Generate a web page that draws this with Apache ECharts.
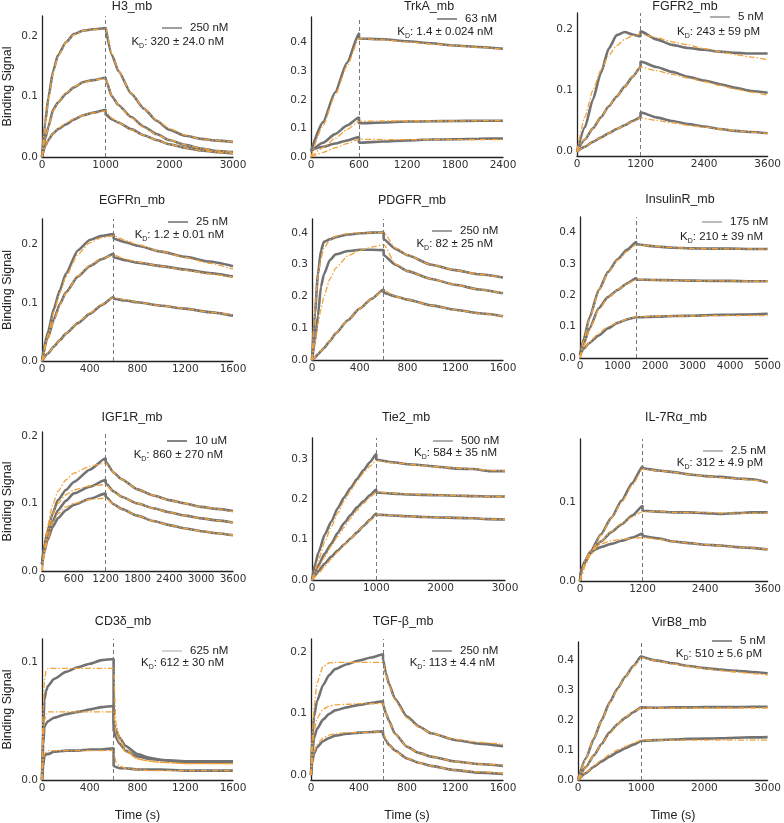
<!DOCTYPE html>
<html><head><meta charset="utf-8">
<script src="https://cdn.jsdelivr.net/npm/echarts@6/dist/echarts.min.js"></script>
<style>html,body{margin:0;padding:0;background:#fff}#c{width:784px;height:823px}</style>
</head><body><div id="c"></div>
<script>
// ---------------- DATA ----------------
const panelTitles = ['H3_mb','TrkA_mb','FGFR2_mb','EGFRn_mb','PDGFR_mb','InsulinR_mb','IGF1R_mb','Tie2_mb','IL-7Rα_mb','CD3δ_mb','TGF-β_mb','VirB8_mb'];
const concLabels = ['250 nM','63 nM','5 nM','25 nM','250 nM','175 nM','10 uM','500 nM','2.5 nM','625 nM','250 nM','5 nM'];
const kdValues = ['320 ± 24.0 nM','1.4 ± 0.024 nM','243 ± 59 pM','1.2 ± 0.01 nM','82 ± 25 nM','210 ± 39 nM','860 ± 270 nM','584 ± 35 nM','312 ± 4.9 pM','612 ± 30 nM','113 ± 4.4 nM','510 ± 5.6 pM'];
const breakTimes = [1000,600,1200,600,600,1500,1200,1000,1200,600,600,1000];
const xMaxes = [3000,2400,3600,1600,1600,5000,3600,3000,3600,1600,1600,3000];
const xSteps = [1000,600,1200,400,400,1000,600,1000,1200,400,400,1000];
const yTickValues = [[0,0.1,0.2],[0,0.1,0.2,0.3,0.4],[0,0.1,0.2],[0,0.1,0.2],[0,0.1,0.2,0.3,0.4],[0,0.1,0.2,0.3,0.4],[0,0.1,0.2],[0,0.1,0.2,0.3],[0,0.1],[0,0.1],[0,0.1,0.2],[0,0.1,0.2,0.3,0.4]];

const H3_time = [0,50,100,175,250,380,500,650,800,1000,1000,1100,1200,1400,1600,1800,2000,2250,2500,2750,3000];
const H3_obs = [
 [0,0.057,0.098,0.142,0.168,0.19,0.203,0.209,0.211,0.213,0.212,0.168,0.142,0.105,0.08,0.06,0.045,0.035,0.03,0.027,0.025],
 [0,0.03,0.05,0.078,0.09,0.105,0.115,0.124,0.127,0.131,0.128,0.1,0.086,0.066,0.05,0.038,0.028,0.02,0.014,0.01,0.008],
 [0,0.018,0.028,0.039,0.046,0.054,0.062,0.069,0.073,0.078,0.07,0.062,0.057,0.046,0.036,0.028,0.021,0.015,0.011,0.008,0.006]];
const H3_fit = [
 [0,0.055,0.095,0.139,0.166,0.19,0.202,0.209,0.211,0.212,0.212,0.17,0.142,0.106,0.08,0.061,0.047,0.036,0.03,0.027,0.025],
 [0,0.029,0.05,0.076,0.09,0.106,0.116,0.123,0.127,0.13,0.13,0.101,0.086,0.065,0.049,0.037,0.028,0.02,0.014,0.01,0.008],
 [0,0.017,0.028,0.039,0.047,0.056,0.063,0.069,0.073,0.076,0.076,0.064,0.057,0.045,0.036,0.028,0.021,0.015,0.011,0.008,0.006]];

const TrkA_time = [0,150,300,450,600,600,900,1200,1500,1800,2100,2400];
const TrkA_obs = [
 [0.02,0.122,0.226,0.33,0.432,0.415,0.412,0.405,0.398,0.39,0.385,0.379],
 [0.02,0.05,0.08,0.11,0.138,0.118,0.121,0.124,0.125,0.126,0.127,0.127],
 [0.025,0.036,0.047,0.058,0.07,0.05,0.054,0.058,0.061,0.062,0.064,0.065]];
const TrkA_fit = [
 [0,0.11,0.215,0.318,0.415,0.415,0.41,0.403,0.396,0.39,0.384,0.378],
 [0,0.033,0.065,0.096,0.125,0.125,0.126,0.126,0.126,0.126,0.127,0.127],
 [0,0.016,0.032,0.047,0.062,0.062,0.061,0.061,0.061,0.061,0.061,0.061]];

const FGFR2_time = [0,150,300,450,600,750,900,1050,1200,1200,1500,1800,2100,2400,2700,3000,3300,3600];
const FGFR2_obs = [
 [0,0.04,0.085,0.128,0.168,0.19,0.195,0.191,0.188,0.196,0.183,0.174,0.169,0.166,0.163,0.161,0.16,0.16],
 [0,0.02,0.038,0.056,0.074,0.09,0.106,0.122,0.138,0.147,0.138,0.13,0.122,0.116,0.11,0.104,0.099,0.096],
 [0,0.008,0.016,0.023,0.03,0.037,0.043,0.05,0.056,0.064,0.056,0.05,0.045,0.041,0.037,0.034,0.032,0.03]];
const FGFR2_fit = [
 [0,0.057,0.1,0.133,0.157,0.173,0.183,0.189,0.192,0.192,0.186,0.179,0.174,0.168,0.163,0.158,0.154,0.15],
 [0,0.02,0.038,0.056,0.074,0.09,0.106,0.122,0.138,0.138,0.132,0.126,0.12,0.114,0.108,0.102,0.097,0.092],
 [0,0.008,0.016,0.023,0.03,0.037,0.043,0.05,0.055,0.055,0.051,0.047,0.043,0.04,0.037,0.034,0.032,0.03]];

const EGFRn_time = [0,50,100,150,200,300,400,500,600,600,700,800,1000,1200,1400,1600];
const EGFRn_obs = [
 [0,0.05,0.09,0.122,0.15,0.19,0.208,0.215,0.218,0.21,0.204,0.198,0.188,0.179,0.171,0.163],
 [0,0.04,0.072,0.098,0.118,0.145,0.163,0.175,0.184,0.178,0.173,0.169,0.163,0.157,0.151,0.145],
 [0,0.013,0.025,0.036,0.047,0.065,0.081,0.096,0.11,0.107,0.104,0.101,0.095,0.09,0.084,0.078]];
const EGFRn_fit = [
 [0,0.045,0.085,0.117,0.145,0.183,0.203,0.212,0.215,0.215,0.207,0.2,0.188,0.178,0.168,0.158],
 [0,0.038,0.07,0.096,0.117,0.146,0.164,0.176,0.182,0.182,0.175,0.17,0.163,0.156,0.15,0.144],
 [0,0.013,0.025,0.036,0.047,0.066,0.082,0.097,0.109,0.109,0.105,0.101,0.095,0.09,0.084,0.079]];

const PDGFR_time = [0,25,50,75,100,150,200,300,400,500,600,600,700,800,1000,1200,1400,1600];
const PDGFR_obs = [
 [0,0.15,0.27,0.345,0.372,0.38,0.387,0.395,0.399,0.401,0.402,0.38,0.35,0.33,0.3,0.283,0.27,0.26],
 [0,0.06,0.14,0.23,0.27,0.315,0.333,0.343,0.347,0.347,0.346,0.33,0.3,0.28,0.255,0.237,0.222,0.21],
 [0,0.008,0.018,0.028,0.038,0.06,0.084,0.125,0.162,0.193,0.222,0.212,0.2,0.19,0.172,0.158,0.147,0.138]];
const PDGFR_fit = [
 [0,0.16,0.265,0.32,0.352,0.378,0.39,0.398,0.4,0.401,0.402,0.402,0.352,0.33,0.3,0.283,0.27,0.26],
 [0,0.06,0.115,0.16,0.2,0.255,0.29,0.328,0.345,0.356,0.363,0.363,0.302,0.28,0.255,0.237,0.222,0.21],
 [0,0.009,0.019,0.029,0.039,0.061,0.084,0.125,0.162,0.193,0.22,0.22,0.2,0.19,0.172,0.158,0.147,0.138]];

const InsulinR_time = [0,100,250,500,750,1000,1250,1500,1500,2000,2500,3000,3500,4000,4500,5000];
const InsulinR_obs = [
 [0.01,0.06,0.128,0.217,0.275,0.315,0.345,0.37,0.363,0.356,0.352,0.35,0.349,0.349,0.348,0.348],
 [0.01,0.045,0.094,0.159,0.195,0.217,0.238,0.255,0.25,0.249,0.248,0.247,0.246,0.246,0.245,0.245],
 [0.01,0.03,0.048,0.072,0.095,0.112,0.123,0.13,0.13,0.132,0.134,0.135,0.137,0.138,0.139,0.141]];
const InsulinR_fit = [
 [0,0.055,0.125,0.215,0.272,0.312,0.34,0.362,0.362,0.356,0.352,0.35,0.349,0.348,0.348,0.347],
 [0,0.04,0.09,0.155,0.193,0.217,0.237,0.25,0.25,0.249,0.248,0.247,0.246,0.246,0.245,0.245],
 [0,0.025,0.05,0.08,0.1,0.113,0.124,0.132,0.132,0.133,0.134,0.134,0.135,0.135,0.135,0.135]];

const IGF1R_time = [0,50,100,200,300,450,600,900,1200,1200,1350,1500,1800,2100,2400,2700,3000,3300,3600];
const IGF1R_obs = [
 [0.01,0.04,0.058,0.085,0.105,0.12,0.132,0.15,0.167,0.162,0.146,0.136,0.121,0.112,0.105,0.1,0.095,0.092,0.089],
 [0.01,0.035,0.05,0.073,0.09,0.104,0.115,0.125,0.135,0.13,0.118,0.11,0.1,0.093,0.087,0.082,0.078,0.075,0.072],
 [0.01,0.03,0.045,0.065,0.078,0.09,0.098,0.107,0.115,0.11,0.099,0.092,0.082,0.074,0.068,0.063,0.059,0.056,0.053]];
const IGF1R_fit = [
 [0,0.035,0.065,0.098,0.118,0.135,0.145,0.155,0.16,0.16,0.146,0.136,0.121,0.112,0.105,0.1,0.095,0.092,0.088],
 [0,0.03,0.055,0.085,0.1,0.113,0.12,0.126,0.128,0.128,0.118,0.11,0.1,0.093,0.087,0.082,0.078,0.075,0.072],
 [0,0.025,0.045,0.072,0.085,0.095,0.1,0.106,0.108,0.108,0.099,0.092,0.082,0.074,0.068,0.063,0.059,0.056,0.053]];

const Tie2_time = [0,50,100,200,300,400,500,600,700,800,900,1000,1000,1250,1500,1750,2000,2250,2500,2750,3000];
const Tie2_obs = [
 [0,0.04,0.068,0.113,0.145,0.178,0.205,0.228,0.25,0.272,0.292,0.312,0.298,0.292,0.287,0.284,0.28,0.276,0.275,0.27,0.27],
 [0,0.02,0.037,0.066,0.09,0.117,0.141,0.161,0.18,0.195,0.21,0.224,0.217,0.214,0.212,0.211,0.21,0.209,0.208,0.207,0.207],
 [0,0.012,0.022,0.041,0.058,0.073,0.088,0.103,0.118,0.134,0.149,0.165,0.162,0.16,0.158,0.156,0.155,0.154,0.153,0.151,0.15]];
const Tie2_fit = [
 [0,0.025,0.05,0.095,0.132,0.166,0.196,0.222,0.245,0.265,0.282,0.296,0.296,0.291,0.287,0.283,0.28,0.277,0.275,0.272,0.27],
 [0,0.015,0.03,0.058,0.084,0.108,0.131,0.153,0.173,0.19,0.205,0.218,0.218,0.215,0.213,0.211,0.21,0.209,0.208,0.207,0.207],
 [0,0.008,0.016,0.034,0.052,0.07,0.087,0.103,0.119,0.134,0.148,0.162,0.162,0.16,0.158,0.156,0.155,0.154,0.153,0.151,0.15]];

const IL7_time = [0,25,100,200,400,600,800,1000,1200,1200,1500,1800,2100,2400,2700,3000,3300,3600];
const IL7_obs = [
 [0,0.015,0.025,0.037,0.059,0.08,0.102,0.124,0.145,0.143,0.14,0.138,0.135,0.133,0.132,0.13,0.129,0.125],
 [0,0.014,0.024,0.035,0.05,0.062,0.072,0.083,0.095,0.089,0.088,0.087,0.087,0.086,0.085,0.086,0.087,0.087],
 [0,0.014,0.026,0.037,0.043,0.047,0.051,0.055,0.06,0.057,0.054,0.05,0.048,0.046,0.045,0.043,0.042,0.04]];
const IL7_fit = [
 [0,0.006,0.02,0.035,0.058,0.08,0.1,0.121,0.142,0.142,0.14,0.138,0.135,0.133,0.131,0.13,0.128,0.126],
 [0,0.006,0.02,0.033,0.05,0.063,0.073,0.081,0.088,0.088,0.088,0.087,0.087,0.087,0.086,0.086,0.086,0.086],
 [0,0.008,0.027,0.038,0.047,0.051,0.053,0.054,0.055,0.055,0.053,0.05,0.048,0.046,0.045,0.043,0.042,0.04]];

const CD3_time = [0,10,20,35,50,100,200,300,400,500,600,600,620,650,700,800,900,1000,1200,1400,1600];
const CD3_obs = [
 [0,0.045,0.068,0.076,0.08,0.086,0.092,0.096,0.099,0.102,0.103,0.048,0.042,0.036,0.029,0.022,0.019,0.017,0.015,0.015,0.015],
 [0,0.03,0.045,0.048,0.05,0.053,0.056,0.058,0.06,0.062,0.063,0.042,0.036,0.031,0.025,0.02,0.018,0.017,0.016,0.016,0.016],
 [0,0.012,0.02,0.022,0.022,0.024,0.025,0.025,0.026,0.026,0.027,0.012,0.011,0.01,0.01,0.009,0.009,0.009,0.008,0.008,0.008]];
const CD3_fit = [
 [0,0.06,0.085,0.093,0.095,0.095,0.095,0.095,0.095,0.095,0.095,0.095,0.048,0.036,0.026,0.018,0.016,0.015,0.014,0.014,0.014],
 [0,0.035,0.05,0.056,0.058,0.058,0.058,0.058,0.058,0.058,0.058,0.058,0.04,0.032,0.024,0.018,0.016,0.015,0.014,0.014,0.014],
 [0,0.015,0.022,0.024,0.025,0.025,0.025,0.025,0.025,0.025,0.025,0.025,0.015,0.012,0.01,0.009,0.008,0.008,0.008,0.008,0.008]];

const TGF_time = [0,10,25,50,100,150,200,300,400,500,600,600,625,650,700,800,900,1000,1200,1400,1600];
const TGF_obs = [
 [0,0.06,0.095,0.12,0.146,0.162,0.172,0.18,0.186,0.191,0.196,0.188,0.165,0.148,0.124,0.095,0.079,0.068,0.057,0.051,0.047],
 [0,0.035,0.06,0.075,0.09,0.099,0.105,0.11,0.114,0.117,0.12,0.115,0.1,0.088,0.067,0.046,0.036,0.03,0.022,0.018,0.015],
 [0,0.02,0.035,0.045,0.055,0.06,0.064,0.067,0.069,0.07,0.071,0.065,0.056,0.049,0.04,0.027,0.02,0.015,0.008,0.004,0.002]];
const TGF_fit = [
 [0,0.06,0.11,0.15,0.176,0.182,0.183,0.183,0.183,0.183,0.183,0.183,0.163,0.146,0.122,0.093,0.078,0.068,0.058,0.053,0.05],
 [0,0.04,0.07,0.092,0.107,0.112,0.114,0.115,0.116,0.116,0.116,0.116,0.1,0.088,0.067,0.046,0.036,0.03,0.022,0.018,0.016],
 [0,0.02,0.037,0.05,0.06,0.065,0.067,0.069,0.069,0.07,0.07,0.07,0.058,0.049,0.039,0.027,0.02,0.015,0.008,0.005,0.003]];

const VirB8_time = [0,125,250,375,500,625,750,875,1000,1000,1250,1500,1750,2000,2250,2500,2750,3000];
const VirB8_obs = [
 [0,0.072,0.137,0.2,0.258,0.305,0.345,0.38,0.412,0.41,0.398,0.389,0.38,0.373,0.368,0.364,0.36,0.356],
 [0,0.043,0.082,0.121,0.159,0.186,0.208,0.226,0.242,0.24,0.241,0.242,0.242,0.243,0.243,0.243,0.244,0.244],
 [0,0.023,0.044,0.062,0.078,0.093,0.106,0.118,0.13,0.131,0.133,0.135,0.137,0.138,0.139,0.141,0.142,0.143]];
const VirB8_fit = [
 [0,0.072,0.138,0.2,0.256,0.303,0.344,0.378,0.408,0.408,0.397,0.387,0.379,0.371,0.365,0.36,0.355,0.35],
 [0,0.042,0.083,0.12,0.155,0.185,0.21,0.228,0.24,0.24,0.24,0.24,0.24,0.24,0.24,0.24,0.24,0.24],
 [0,0.025,0.047,0.067,0.085,0.1,0.112,0.123,0.132,0.132,0.133,0.133,0.133,0.133,0.133,0.133,0.133,0.133]];

const panelTimes = [H3_time,TrkA_time,FGFR2_time,EGFRn_time,PDGFR_time,InsulinR_time,IGF1R_time,Tie2_time,IL7_time,CD3_time,TGF_time,VirB8_time];
const panelObs = [H3_obs,TrkA_obs,FGFR2_obs,EGFRn_obs,PDGFR_obs,InsulinR_obs,IGF1R_obs,Tie2_obs,IL7_obs,CD3_obs,TGF_obs,VirB8_obs];
const panelFits = [H3_fit,TrkA_fit,FGFR2_fit,EGFRn_fit,PDGFR_fit,InsulinR_fit,IGF1R_fit,Tie2_fit,IL7_fit,CD3_fit,TGF_fit,VirB8_fit];

// ---------------- LAYOUT ----------------
const gridBoxes = [[42,16,191,141],[311,17,192,140],[577,13,192,143],
                   [41,219,192,142],[312,219,191,141],[580,217,193,141],
                   [41,432,192,139],[312,438,193,142],[580,439,192,142],
                   [42,639,191,141],[311,639,192,141],[578,642,192,140]];
const yRanges = [[0,0.233],[0,0.49],[-0.007,0.226],[0,0.244],[0,0.444],[0,0.45],[0,0.206],[0,0.352],[0,0.18],[0,0.12],[-0.008,0.221],[0,0.46]];
const titlePos = [[132,7],[429,7],[685,7],[132,201],[412,201],[680,200],[132,418],[406,418],[676,418],[123,622],[403,622],[679,623]];
const legendPos = [[162,29],[437,20],[710,18],[168,223],[432,232],[702,223],[167,442],[433,442],[703,452],[162,652],[432,652],[712,642]];
const legendColors = ['#888','#777','#999','#777','#888','#aaa','#666','#999','#aaa','#c8c8c8','#888','#777'];
const kdPos = [[224,42],[493,32],[760,32],[224,235],[493,244],[763,237],[223,455],[497,453],[763,463],[224,663],[495,663],[762,654]];

const GRAY = '#727272', ORANGE = '#f2a23a', INK = '#222';
const option = {animation:false, backgroundColor:'#fff', grid:[], xAxis:[], yAxis:[], series:[], legend:[], graphic:[]};

panelTitles.forEach((title,i)=>{
  const [l,t,w,h] = gridBoxes[i];
  option.grid.push({left:l, top:t, width:w, height:h, containLabel:false});
  option.xAxis.push({type:'value', gridIndex:i, min:0, max:xMaxes[i], interval:xSteps[i],
    axisLine:{show:true, onZero:false, lineStyle:{color:INK, width:1.3}}, axisTick:{show:false}, splitLine:{show:false},
    axisLabel:{formatter:v=>String(v), color:'#333', fontSize:10.5, fontFamily:'DejaVu Sans', margin:3, showMaxLabel:true, showMinLabel:true},
    name: i>=9 ? 'Time (s)' : '', nameLocation:'middle', nameGap:29,
    nameTextStyle:{fontSize:12.5, fontFamily:'Liberation Sans', color:INK}});
  option.yAxis.push({type:'value', gridIndex:i, min:yRanges[i][0], max:yRanges[i][1],
    axisLine:{show:true, onZero:false, lineStyle:{color:INK, width:1.3}}, axisTick:{show:false}, splitLine:{show:false},
    axisLabel:{customValues:yTickValues[i], formatter:v=>Number(v).toFixed(1), color:'#333', fontSize:10.5, fontFamily:'DejaVu Sans', margin:4},
    name: i%3===0 ? 'Binding Signal' : '', nameLocation:'middle', nameGap:28, nameRotate:90,
    nameTextStyle:{fontSize:12.5, fontFamily:'Liberation Sans', color:INK}});
  const times = panelTimes[i];
  panelObs[i].forEach((vals,j)=>{
    const s = {type:'line', xAxisIndex:i, yAxisIndex:i, name: j===0 ? concLabels[i] : title+' obs '+j,
      data: times.map((x,n)=>[x, vals[n]]), symbol:'none', showSymbol:false, smooth:0.2, smoothMonotone:'x',
      lineStyle:{color:GRAY, width:2.6}, itemStyle:{color:GRAY}, z:2, silent:true};
    if (j===0) s.markLine = {silent:true, symbol:'none', label:{show:false},
      lineStyle:{color:'#777', type:[4,3], width:1}, data:[{xAxis:breakTimes[i]}]};
    option.series.push(s);
  });
  panelFits[i].forEach((vals,j)=>{
    option.series.push({type:'line', xAxisIndex:i, yAxisIndex:i, name: title+' fit '+j,
      data: times.map((x,n)=>[x, vals[n]]), symbol:'none', showSymbol:false, smooth:0.2, smoothMonotone:'x',
      lineStyle:{color:ORANGE, width:1.3, type:[6,2,1.5,2]}, itemStyle:{color:ORANGE}, z:3, silent:true});
  });
  option.legend.push({left:legendPos[i][0], top:legendPos[i][1]-7, padding:0, selectedMode:false,
    data:[{name:concLabels[i], icon:'rect', itemStyle:{color:legendColors[i]}}],
    itemWidth:20, itemHeight:1.6, textStyle:{fontSize:11.5, fontFamily:'Liberation Sans', color:INK, padding:[0,0,0,3]}});
  option.graphic.push({type:'text', x:titlePos[i][0], y:titlePos[i][1], silent:true,
    style:{text:title, font:'12.5px "Liberation Sans"', fill:INK, align:'center', verticalAlign:'middle'}});
  option.graphic.push({type:'text', x:kdPos[i][0], y:kdPos[i][1], silent:true,
    style:{text:'{k|K}{s|D}{k|: '+kdValues[i]+'}', align:'right', verticalAlign:'middle',
      rich:{k:{fontSize:11.5, fontFamily:'Liberation Sans', fill:INK, color:INK, lineHeight:16, verticalAlign:'middle'},
            s:{fontSize:7, fontFamily:'Liberation Sans', fill:INK, color:INK, lineHeight:16, verticalAlign:'bottom'}}}});
});

const chart = echarts.init(document.getElementById('c'), null, {renderer:'canvas'});
chart.setOption(option);
</script></body></html>
